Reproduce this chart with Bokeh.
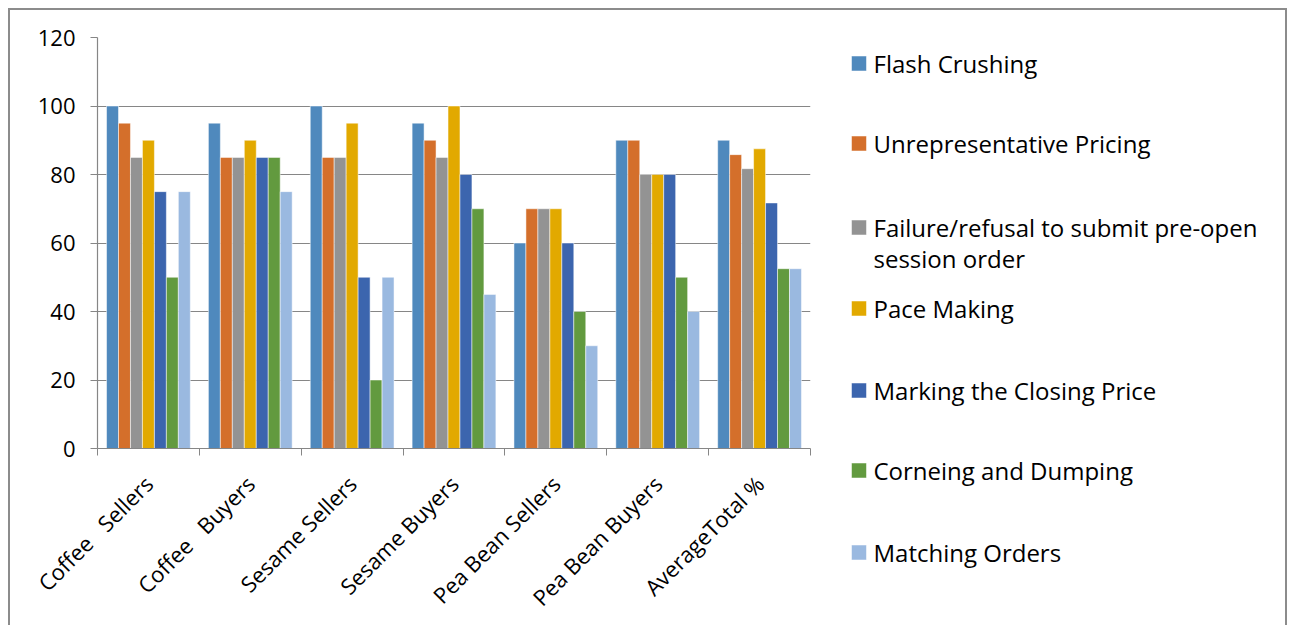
import numpy as np
from bokeh.plotting import figure
from bokeh.layouts import row
from bokeh.models import ColumnDataSource, Range1d, FixedTicker
from bokeh.core.properties import value
from bokeh.transform import dodge
from bokeh.embed import file_html
from bokeh.resources import INLINE

categories = ["Coffee\u00a0\u00a0 Sellers", "Coffee\u00a0\u00a0 Buyers", "Sesame Sellers", "Sesame Buyers",
              "Pea Bean Sellers", "Pea Bean Buyers", "AverageTotal %"]
flash_crushing = [100, 95, 100, 95, 60, 90, 90]
unrepresentative_pricing = [95, 85, 85, 90, 70, 90, 85.8]
failure_refusal = [85, 85, 85, 85, 70, 80, 81.7]
pace_making = [90, 90, 95, 100, 70, 80, 87.5]
marking_closing = [75, 85, 50, 80, 60, 80, 71.7]
corneing_dumping = [50, 85, 20, 70, 40, 50, 52.5]
matching_orders = [75, 75, 50, 45, 30, 40, 52.5]

series_names = ["Flash Crushing", "Unrepresentative Pricing",
                "Failure/refusal to submit pre-open\nsession order", "Pace Making",
                "Marking the Closing Price", "Corneing and Dumping", "Matching Orders"]
series_values = [flash_crushing, unrepresentative_pricing, failure_refusal, pace_making,
                 marking_closing, corneing_dumping, matching_orders]
colors = ["#4F89BD", "#D46F2B", "#939393", "#E2A900", "#3C65AE", "#629A3F", "#9AB9E0"]
y_ticks = [0, 20, 40, 60, 80, 100, 120]

FONT = "Open Sans"
GRAY = "#868686"
H = 615

n = len(categories)
x_centers = [i + 0.5 for i in range(n)]
data = dict(x=x_centers)
for k, vals in enumerate(series_values):
    data[f"s{k}"] = vals
source = ColumnDataSource(data)

p = figure(width=805, height=H, x_range=Range1d(0, n), y_range=Range1d(0, 120),
           output_backend="svg", toolbar_location=None,
           min_border_left=87, min_border_right=5, min_border_top=27, min_border_bottom=177)
p.frame_align = False
p.outline_line_color = None
p.background_fill_color = "white"
p.border_fill_color = "white"

bar_w = 0.1175
for k in range(len(series_values)):
    off = (k - 3) * bar_w
    p.vbar(x=dodge("x", off, range=p.x_range), top=f"s{k}", width=bar_w, source=source,
           fill_color=colors[k], line_color="white", line_alpha=0.5, line_width=1)

p.xgrid.visible = False
p.ygrid.grid_line_color = GRAY
p.ygrid.grid_line_width = 1.2
p.ygrid.ticker = FixedTicker(ticks=y_ticks)

xa = p.xaxis[0]
xa.ticker = FixedTicker(ticks=x_centers, minor_ticks=list(range(n + 1)))
xa.major_label_overrides = {x: c for x, c in zip(x_centers, categories)}
xa.major_tick_out = 0
xa.major_tick_in = 0
xa.minor_tick_out = 7
xa.minor_tick_in = 0
xa.minor_tick_line_color = GRAY
xa.axis_line_color = GRAY
xa.axis_line_width = 1.2
xa.major_label_orientation = np.pi / 4
xa.major_label_standoff = 24
xa.major_label_text_font = FONT
xa.major_label_text_font_size = "22px"
xa.major_label_text_color = "black"

ya = p.yaxis[0]
ya.ticker = FixedTicker(ticks=y_ticks)
ya.major_tick_out = 7
ya.major_tick_in = 0
ya.minor_tick_out = 0
ya.minor_tick_in = 0
ya.major_tick_line_color = GRAY
ya.axis_line_color = GRAY
ya.axis_line_width = 1.2
ya.major_label_standoff = 15
ya.major_label_text_font = FONT
ya.major_label_text_font_size = "22px"
ya.major_label_text_color = "black"

# legend panel (screen-like coordinates: y grows downward)
LW = 470
lf = figure(width=LW, height=H, x_range=Range1d(0, LW), y_range=Range1d(H, 0),
            x_axis_type=None, y_axis_type=None,
            output_backend="svg", toolbar_location=None, min_border=0)
lf.frame_align = False
lf.grid.visible = False
lf.outline_line_color = None
lf.border_fill_color = "white"
lf.background_fill_color = "white"
legend_row_y = [53, 133, 217, 298, 380, 460, 542]
sw_x, sw_size, txt_x = 43.5, 15, 58
leg = ColumnDataSource(dict(name=series_names, color=colors, y=legend_row_y,
                            ty=[y - 17 for y in legend_row_y]))
lf.rect(x=sw_x, y="y", width=sw_size, height=sw_size, source=leg,
        fill_color="color", line_color="white", line_alpha=0.5)
lf.text(x=txt_x, y="ty", text="name", source=leg, text_font=value(FONT),
        text_font_size="24px", text_color="black", text_baseline="top",
        text_line_height=0.95)

layout = row(p, lf, spacing=0)
layout.styles = {"border-top": "2px solid #8c8c8c", "border-left": "2px solid #8c8c8c",
                 "border-right": "2px solid #8c8c8c", "margin-left": "8px", "margin-top": "8px"}

open("out.html", "w").write(file_html(layout, INLINE))
